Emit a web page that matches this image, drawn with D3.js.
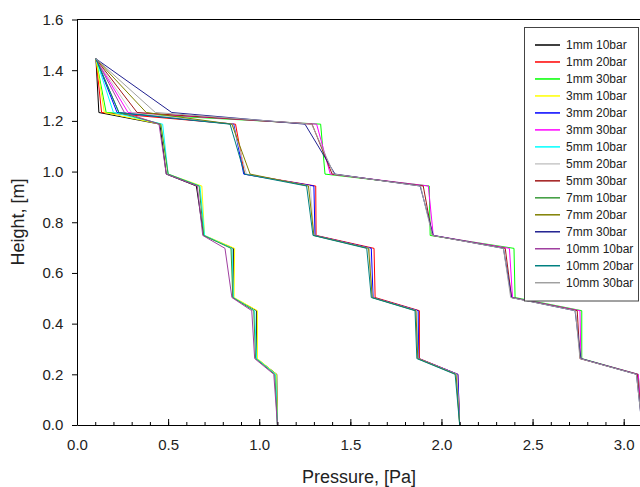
<!DOCTYPE html>
<html><head><meta charset="utf-8">
<script src="https://cdn.jsdelivr.net/npm/d3@7"></script>
<style>
html,body{margin:0;padding:0;background:#fff;}
svg{display:block;font-family:"Liberation Sans",Arial,sans-serif;}
</style></head>
<body>
<script>
// ---- data ----
const heights = [1.445, 1.233, 1.187, 0.99, 0.943, 0.748, 0.697, 0.503, 0.451, 0.262, 0.2, 0.0];
const seriesNames = ["1mm 10bar","1mm 20bar","1mm 30bar","3mm 10bar","3mm 20bar","3mm 30bar",
  "5mm 10bar","5mm 20bar","5mm 30bar","7mm 10bar","7mm 20bar","7mm 30bar",
  "10mm 10bar","10mm 20bar","10mm 30bar"];
const p1mm10bar  = [0.104, 0.12, 0.455, 0.49, 0.655, 0.695, 0.858, 0.856, 0.986, 0.986, 1.096, 1.10];
const p1mm20bar  = [0.104, 0.135, 0.87, 0.92, 1.31, 1.312, 1.63, 1.636, 1.879, 1.879, 2.09, 2.10];
const p1mm30bar  = [0.104, 0.16, 1.337, 1.361, 1.933, 1.938, 2.398, 2.404, 2.77, 2.77, 3.08, 3.10];
const p3mm10bar  = [0.104, 0.15, 0.46, 0.50, 0.685, 0.70, 0.865, 0.862, 0.99, 0.99, 1.095, 1.10];
const p3mm20bar  = [0.104, 0.22, 0.86, 0.915, 1.30, 1.306, 1.615, 1.625, 1.872, 1.875, 2.09, 2.10];
const p3mm30bar  = [0.104, 0.28, 1.315, 1.39, 1.928, 1.955, 2.373, 2.39, 2.76, 2.765, 3.08, 3.10];
const p5mm10bar  = [0.104, 0.20, 0.47, 0.50, 0.675, 0.70, 0.85, 0.858, 0.975, 0.985, 1.09, 1.10];
const p5mm20bar  = [0.104, 0.30, 0.855, 0.93, 1.28, 1.30, 1.605, 1.62, 1.865, 1.872, 2.085, 2.10];
const p5mm30bar  = [0.104, 0.33, 1.29, 1.40, 1.90, 1.95, 2.35, 2.385, 2.745, 2.76, 3.075, 3.10];
const p7mm10bar  = [0.104, 0.23, 0.46, 0.50, 0.67, 0.695, 0.845, 0.855, 0.97, 0.98, 1.085, 1.10];
const p7mm20bar  = [0.104, 0.38, 0.85, 0.95, 1.27, 1.30, 1.60, 1.62, 1.86, 1.87, 2.08, 2.10];
const p7mm30bar  = [0.104, 0.52, 1.251, 1.416, 1.883, 1.955, 2.34, 2.385, 2.733, 2.765, 3.07, 3.10];
const p10mm10bar = [0.104, 0.26, 0.45, 0.49, 0.66, 0.69, 0.812, 0.85, 0.959, 0.975, 1.08, 1.10];
const p10mm20bar = [0.104, 0.23, 0.84, 0.92, 1.26, 1.295, 1.59, 1.615, 1.855, 1.865, 2.075, 2.10];
const p10mm30bar = [0.104, 0.43, 1.288, 1.41, 1.885, 1.95, 2.34, 2.38, 2.735, 2.76, 3.07, 3.10];
const seriesValues = [p1mm10bar,p1mm20bar,p1mm30bar,p3mm10bar,p3mm20bar,p3mm30bar,
  p5mm10bar,p5mm20bar,p5mm30bar,p7mm10bar,p7mm20bar,p7mm30bar,p10mm10bar,p10mm20bar,p10mm30bar];
const xTicks = [0, 0.5, 1.0, 1.5, 2.0, 2.5, 3.0];
const yTicks = [0, 0.2, 0.4, 0.6, 0.8, 1.0, 1.2, 1.4, 1.6];

// ---- styles ----
const palette = ["#000000","#ff0000","#00ff00","#ffff00","#0000ff","#ff00ff",
  "#00ffff","#c8c8c8","#a01818","#3a9a3a","#808000","#202090",
  "#a040a0","#008080","#a0a0a0"];

const W = 640, H = 487;
const svg = d3.select("body").append("svg").attr("width", W).attr("height", H);

const x = d3.scaleLinear().domain([0, 3.5]).range([77, 77 + 3.5 * 182.23]);
const y = d3.scaleLinear().domain([0, 1.6]).range([425, 19.5]);

// lines
const line = d3.line().x(d => x(d[0])).y(d => y(d[1]));
const g = svg.append("g");
seriesValues.forEach((vals, i) => {
  const pts = vals.map((v, j) => [v, heights[j]]);
  g.append("path").attr("d", line(pts)).attr("fill", "none")
    .attr("stroke", palette[i]).attr("stroke-width", 1);
});

// frame top
svg.append("line").attr("x1", x(0)).attr("x2", W).attr("y1", y(1.6)).attr("y2", y(1.6))
  .attr("stroke", "#000").attr("stroke-width", 1);

// x axis minor
svg.append("g").attr("transform", `translate(0,${y(0)})`)
  .call(d3.axisBottom(x).tickValues(d3.range(0, 34).map(d => d / 10)).tickSize(-3).tickSizeOuter(0).tickFormat(""))
  .call(s => s.select(".domain").remove());
// x axis major
const xa = svg.append("g").attr("transform", `translate(0,${y(0)})`)
  .call(d3.axisBottom(x).tickValues(xTicks).tickSize(-6).tickSizeOuter(0).tickPadding(14.3).tickFormat(d3.format(".1f")));
xa.selectAll("text").attr("font-size", 15).attr("fill", "#222").attr("font-family", '"Liberation Sans",Arial,sans-serif');

// y axis
const ya = svg.append("g").attr("transform", `translate(${x(0)},0)`)
  .call(d3.axisLeft(y).tickValues(yTicks).tickSize(5).tickSizeOuter(0).tickPadding(8.7).tickFormat(d3.format(".1f")));
ya.selectAll("text").attr("font-size", 15).attr("fill", "#222").attr("font-family", '"Liberation Sans",Arial,sans-serif');

svg.selectAll(".domain").attr("stroke", "#000");

// axis titles
svg.append("text").attr("x", 359).attr("y", 483).attr("text-anchor", "middle")
  .attr("font-size", 18).attr("fill", "#222").text("Pressure, [Pa]");
svg.append("text").attr("transform", "translate(24,222) rotate(-90)").attr("text-anchor", "middle")
  .attr("font-size", 18).attr("fill", "#222").text("Height, [m]");

// legend
const lg = svg.append("g");
lg.append("rect").attr("x", 524.5).attr("y", 27.5).attr("width", 114).attr("height", 273.5)
  .attr("fill", "#fff").attr("stroke", "#444").attr("stroke-width", 1);
seriesNames.forEach((name, i) => {
  const cy = 45 + i * 16.98;
  lg.append("line").attr("x1", 535).attr("x2", 560).attr("y1", cy).attr("y2", cy)
    .attr("stroke", palette[i]).attr("stroke-width", 1.5);
  lg.append("text").attr("x", 566).attr("y", cy + 4).attr("font-size", 12)
    .attr("fill", "#222").text(name);
});
</script>
</body></html>
